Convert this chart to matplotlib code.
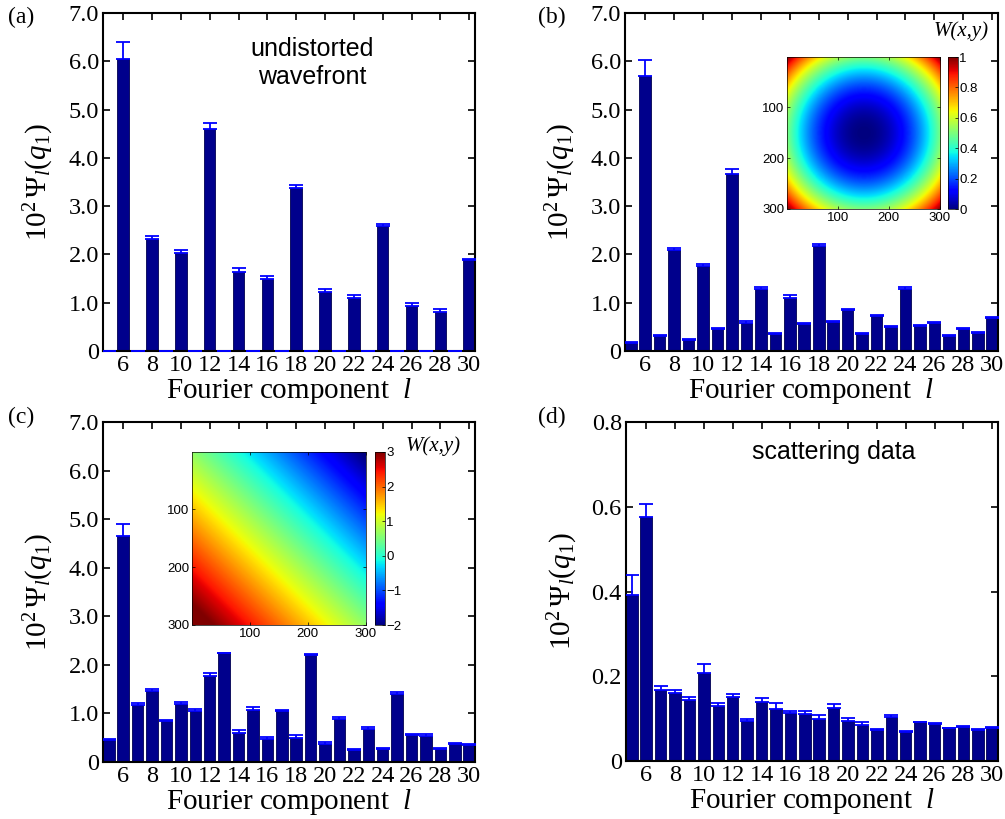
import numpy as np
import matplotlib
matplotlib.use('Agg')
import matplotlib.pyplot as plt

plt.rcParams['font.family'] = 'Liberation Serif'
plt.rcParams['mathtext.fontset'] = 'custom'
plt.rcParams['mathtext.rm'] = 'Liberation Serif'
plt.rcParams['mathtext.it'] = 'Liberation Serif:italic'

# Fourier components
l_vals = [5, 6, 7, 8, 9, 10, 11, 12, 13, 14, 15, 16, 17, 18,
          19, 20, 21, 22, 23, 24, 25, 26, 27, 28, 29, 30]

# (a) undistorted wavefront
psi_a = [0, 6.05, 0, 2.31, 0, 2.02, 0, 4.59, 0, 1.64, 0, 1.50, 0, 3.38,
         0, 1.23, 0, 1.10, 0, 2.58, 0, 0.94, 0, 0.81, 0, 1.88]
err_a = [0, 0.34, 0, 0.07, 0, 0.07, 0, 0.13, 0, 0.08, 0, 0.06, 0, 0.05,
         0, 0.06, 0, 0.06, 0, 0.05, 0, 0.05, 0, 0.05, 0, 0.03]

# (b) defocus
psi_b = [0.17, 5.69, 0.31, 2.09, 0.22, 1.76, 0.46, 3.66, 0.59, 1.28, 0.36, 1.10, 0.55, 2.17,
         0.60, 0.84, 0.35, 0.72, 0.50, 1.29, 0.52, 0.57, 0.31, 0.45, 0.38, 0.68]
err_b = [0.02, 0.33, 0.02, 0.05, 0.02, 0.05, 0.02, 0.10, 0.03, 0.05, 0.02, 0.05, 0.02, 0.04,
         0.02, 0.04, 0.02, 0.03, 0.02, 0.03, 0.02, 0.03, 0.02, 0.02, 0.02, 0.02]

# (c) tilt
psi_c = [0.45, 4.65, 1.17, 1.46, 0.84, 1.19, 1.06, 1.77, 2.24, 0.60, 1.08, 0.47, 1.04, 0.50,
         2.20, 0.38, 0.89, 0.24, 0.67, 0.27, 1.41, 0.55, 0.54, 0.27, 0.38, 0.36]
err_c = [0.03, 0.26, 0.05, 0.04, 0.03, 0.05, 0.04, 0.07, 0.0, 0.05, 0.05, 0.05, 0.04, 0.05,
         0.03, 0.03, 0.04, 0.02, 0.05, 0.02, 0.03, 0.02, 0.03, 0.02, 0.02, 0.02]

# (d) scattering data
psi_d = [0.391, 0.576, 0.167, 0.161, 0.145, 0.208, 0.130, 0.152, 0.095, 0.140, 0.122, 0.114, 0.110,
         0.100, 0.126, 0.095, 0.085, 0.073, 0.105, 0.069, 0.091, 0.087, 0.077, 0.081, 0.072, 0.079]
err_d = [0.047, 0.030, 0.011, 0.006, 0.007, 0.022, 0.008, 0.005, 0.003, 0.008, 0.014, 0.003, 0.008,
         0.008, 0.008, 0.006, 0.007, 0.003, 0.003, 0.002, 0.002, 0.003, 0.002, 0.002, 0.003, 0.002]

x_ticks = [6, 8, 10, 12, 14, 16, 18, 20, 22, 24, 26, 28, 30]
yt_big = [0, 1, 2, 3, 4, 5, 6, 7]
yt_big_lab = ['0', '1.0', '2.0', '3.0', '4.0', '5.0', '6.0', '7.0']
yt_small = [0, 0.2, 0.4, 0.6, 0.8]
yt_small_lab = ['0', '0.2', '0.4', '0.6', '0.8']

# inset wavefront parameters (pixel grid 300 x 300)
npix = 300
defocus_clim = (0, 1)
tilt_clim = (-2, 3)
tilt_offset = 0.63
tilt_slope = 2.7

bar_col = '#00008C'
err_col = '#0000FF'


def DrawBars(ax, vals, errs, yticks, ylabels, ymax):
    ax.bar(l_vals, vals, width=0.8, color=bar_col, edgecolor='#000050', linewidth=0.6, zorder=2)
    ax.errorbar(l_vals, vals, yerr=[np.zeros(len(errs)), errs], fmt='none',
                ecolor=err_col, elinewidth=1.3, capsize=5, capthick=1.3, zorder=3)
    ax.set_xlim(4.6, 30.4)
    ax.set_ylim(0, ymax)
    ax.set_xticks(x_ticks)
    ax.set_yticks(yticks)
    ax.set_yticklabels(ylabels)
    ax.tick_params(direction='in', top=True, right=True, length=5, width=1.2,
                   labelsize=17.5, pad=3)
    for s in ax.spines.values():
        s.set_linewidth(1.5)
    ax.set_xlabel(r'Fourier component  $l$', fontsize=21, labelpad=0)
    ax.set_ylabel(r'$10^2\,\Psi_l(q_1)$', fontsize=21)
    ax.yaxis.set_label_coords(-0.125, 0.5)


def DrawInset(fig, pos, cpos, W, clim, cticks, clabels, title_xy):
    iax = fig.add_axes(pos)
    im = iax.imshow(W, cmap='jet', vmin=clim[0], vmax=clim[1], aspect='auto',
                    extent=(0.5, npix + 0.5, npix + 0.5, 0.5), interpolation='bilinear')
    iax.set_xticks([100, 200, 300])
    iax.set_yticks([100, 200, 300])
    iax.tick_params(direction='in', top=True, right=True, length=2, width=0.5,
                    labelsize=9.5, pad=2)
    for t in iax.get_xticklabels() + iax.get_yticklabels():
        t.set_family('Liberation Sans')
    for s in iax.spines.values():
        s.set_linewidth(0.5)
    cax = fig.add_axes(cpos)
    cb = fig.colorbar(im, cax=cax)
    cb.set_ticks(cticks)
    cb.set_ticklabels(clabels)
    cax.tick_params(direction='in', length=2, width=0.5, labelsize=9.5, pad=1)
    for t in cax.get_yticklabels():
        t.set_family('Liberation Sans')
    cb.outline.set_linewidth(0.5)
    fig.text(title_xy[0], title_xy[1], 'W(x,y)', fontsize=15, style='italic',
             ha='center', va='center')


W_px = 1005.0
H_px = 819.0
fig = plt.figure(figsize=(10.05, 8.19), dpi=100)


def Pos(x0, y0, x1, y1):
    return [x0 / W_px, 1 - y1 / H_px, (x1 - x0) / W_px, (y1 - y0) / H_px]


ax_a = fig.add_axes(Pos(103, 13, 475, 351))
ax_b = fig.add_axes(Pos(625, 13, 998, 351))
ax_c = fig.add_axes(Pos(103, 422, 475, 762))
ax_d = fig.add_axes(Pos(626, 422, 998, 761))

DrawBars(ax_a, psi_a, err_a, yt_big, yt_big_lab, 7)
DrawBars(ax_b, psi_b, err_b, yt_big, yt_big_lab, 7)
DrawBars(ax_c, psi_c, err_c, yt_big, yt_big_lab, 7)
DrawBars(ax_d, psi_d, err_d, yt_small, yt_small_lab, 0.8)

ax_a.text(312 / W_px, 1 - 63 / H_px, 'undistorted\nwavefront', transform=fig.transFigure,
          family='Liberation Sans', fontsize=18, ha='center', va='center', linespacing=1.2)
ax_d.text(834 / W_px, 1 - 452 / H_px, 'scattering data', transform=fig.transFigure,
          family='Liberation Sans', fontsize=18, ha='center', va='center')

for lab, x, y in [('(a)', 8, 17), ('(b)', 538, 17), ('(c)', 8, 417), ('(d)', 538, 417)]:
    fig.text(x / W_px, 1 - y / H_px, lab, fontsize=17, ha='left', va='center')

# inset maps
gx, gy = np.meshgrid(np.arange(1, npix + 1), np.arange(1, npix + 1))
c0 = (npix + 1) / 2.0
W_def = ((gx - c0) ** 2 + (gy - c0) ** 2) / (2 * (c0 - 1) ** 2)
W_tilt = tilt_offset + tilt_slope * (gy - gx) / npix

DrawInset(fig, Pos(787, 57, 940, 209), Pos(948, 57, 958, 209), W_def, defocus_clim,
          [0, 0.2, 0.4, 0.6, 0.8, 1], ['0', '0.2', '0.4', '0.6', '0.8', '1'],
          (961 / W_px, 1 - 31 / H_px))
DrawInset(fig, Pos(192, 452, 366, 625), Pos(375, 452, 385, 625), W_tilt, tilt_clim,
          [-2, -1, 0, 1, 2, 3], ['\u22122', '\u22121', '0', '1', '2', '3'],
          (433 / W_px, 1 - 446 / H_px))

fig.savefig('out.png', dpi=100)
